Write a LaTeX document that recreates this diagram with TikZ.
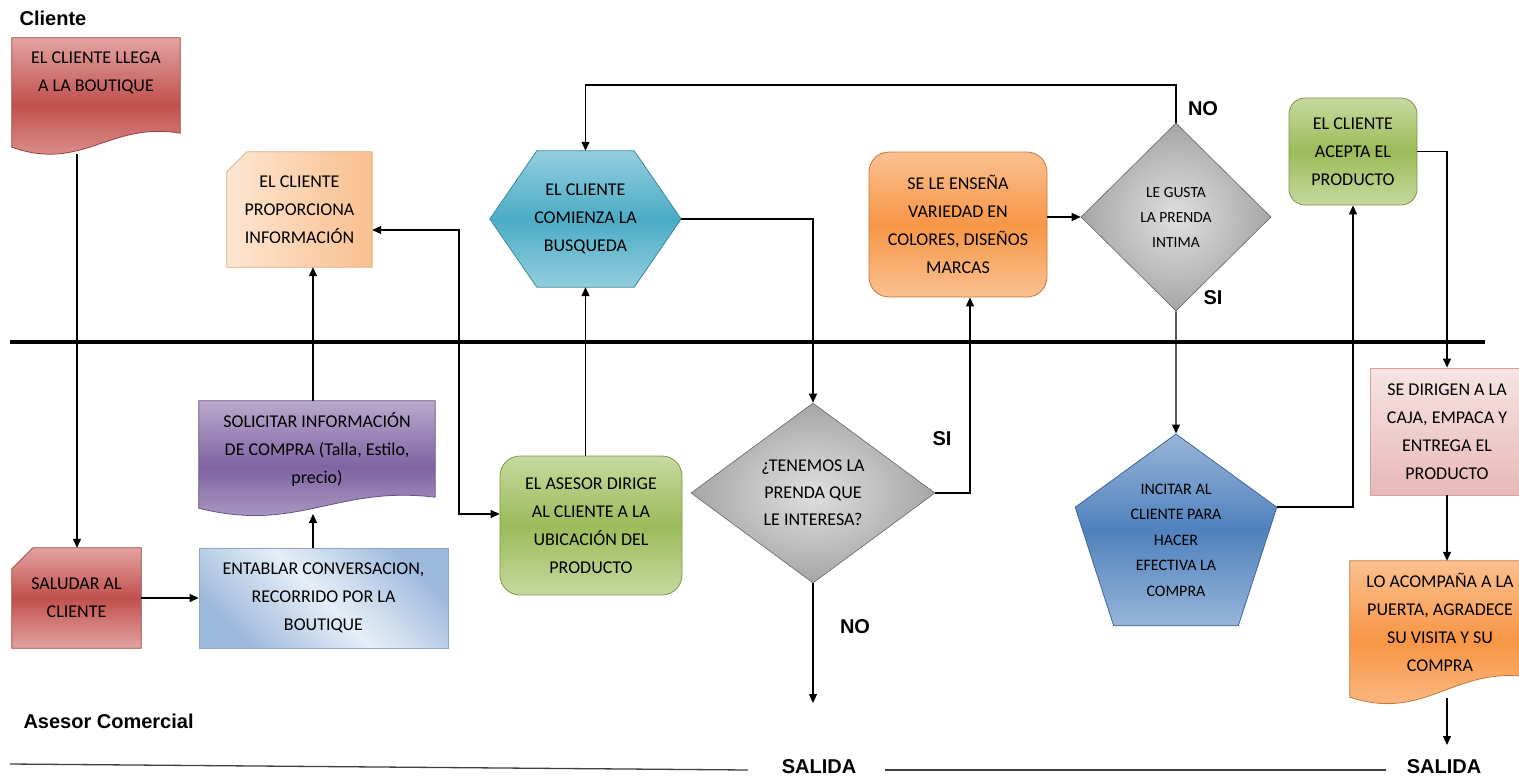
\documentclass[tikz,border=0pt]{standalone}
\usepackage{fontspec}
\setmainfont{Carlito}
\newfontfamily\lanefont{Liberation Sans}
\usetikzlibrary{shapes.geometric,arrows.meta,positioning,calc,backgrounds}
\definecolor{reddark}{HTML}{C0504D}
\definecolor{redlight}{HTML}{E3A3A1}
\definecolor{peachdark}{HTML}{F9BF8F}
\definecolor{peachlight}{HTML}{FDE6D2}
\definecolor{tealdark}{HTML}{4BACC6}
\definecolor{teallight}{HTML}{93CDDD}
\definecolor{orangedark}{HTML}{F79646}
\definecolor{orangelight}{HTML}{FAC090}
\definecolor{greendark}{HTML}{9BBB59}
\definecolor{greenlight}{HTML}{C6D9A0}
\definecolor{purpledark}{HTML}{8064A2}
\definecolor{purplelight}{HTML}{B8A8CC}
\definecolor{bluedark}{HTML}{4F81BD}
\definecolor{bluelight}{HTML}{98B5D8}
\definecolor{skydark}{HTML}{9DB9DB}
\definecolor{skylight}{HTML}{E6EEF7}
\definecolor{pinkdark}{HTML}{E6B9B8}
\definecolor{pinklight}{HTML}{F6E4E3}

% shapes drawn behind plain nodes
\newcommand{\docfill}[4]{%
  \path[#1] (#2.north west) -- (#2.north east) -- ($(#2.south east)+(0,#3)$)
    .. controls ($(#2.south east)!0.42!(#2.south west)+(0,{#3-12})$)
    and ($(#2.south east)!0.58!(#2.south west)+(0,{#4+25})$)
    .. ($(#2.south west)+(0,#4)$) -- cycle;}
\newcommand{\cardfill}[3]{%
  \path[#1] ($(#2.north west)+(#3,0)$) -- (#2.north east) -- (#2.south east)
    -- (#2.south west) -- ($(#2.north west)+(0,#3)$) -- cycle;}
\newcommand{\hexfill}[3]{%
  \path[#1] (#2.west) -- ($(#2.north west)+(#3,0)$) -- ($(#2.north east)+(-#3,0)$)
    -- (#2.east) -- ($(#2.south east)+(-#3,0)$) -- ($(#2.south west)+(#3,0)$) -- cycle;}

\begin{document}
\begin{tikzpicture}[x=1pt, y=-1pt,
    >={Triangle[length=9pt, width=8pt]},
    box/.style={inner sep=0pt, align=center, text=black, font=\fontsize{18}{28}\selectfont},
    smallbox/.style={box, font=\fontsize{15.5}{25}\selectfont},
    lane/.style={font=\lanefont\bfseries\fontsize{20}{24}\selectfont},
    link/.style={line width=1.2pt, ->},
    redshade/.style={top color=redlight, bottom color=redlight, middle color=reddark, draw=reddark!80!black, line width=0.8pt},
    peachshade/.style={left color=peachlight, right color=peachdark, draw=peachdark!90!black, line width=0.8pt},
    tealshade/.style={top color=teallight, bottom color=teallight, middle color=tealdark, draw=tealdark!80!black, line width=0.8pt},
    orangeshade/.style={top color=orangelight, bottom color=orangelight, middle color=orangedark, draw=orangedark!80!black, line width=0.8pt},
    greenshade/.style={top color=greenlight, bottom color=greenlight, middle color=greendark, draw=greendark!80!black, line width=0.8pt},
    purpleshade/.style={top color=purplelight, bottom color=purplelight, middle color=purpledark, draw=purpledark!80!black, line width=0.8pt},
    pentashade/.style={top color=bluelight, bottom color=bluelight, middle color=bluedark, draw=bluedark!80!black, line width=0.8pt},
    skyshade/.style={top color=skydark, bottom color=skydark, middle color=skylight, shading angle=-45, draw=skydark!90!black, line width=0.8pt},
    pinkshade/.style={top color=pinklight, bottom color=pinkdark, draw=reddark!55, line width=0.8pt},
    grayshade/.style={inner color=gray!25, outer color=gray!70, draw=gray!80!black, line width=0.6pt}
]
\useasboundingbox (0,0) rectangle (1519,780);

% lanes
\node[lane] (cliente) at (53,18) {Cliente};
\node[lane, anchor=west] (asesorlane) at (20,721) {Asesor Comercial};
\draw[line width=4pt] (10,342) -- (1485,342);
\draw[line width=1.3pt, black!75] (10,764) -- (748,770);
\draw[line width=1.3pt, black!75] (885,770) -- (1386,770);

% Cliente
\node[box, minimum width=168, minimum height=70] (llega) at (96,73) {EL CLIENTE LLEGA\\A LA BOUTIQUE};
\node[box, minimum width=145, minimum height=115] (proporciona) at (299.5,209.5) {EL CLIENTE\\PROPORCIONA\\INFORMACIÓN};
\node[box, minimum width=191, minimum height=136] (busca) at (585.5,219) {EL CLIENTE\\COMIENZA LA\\BUSQUEDA};
\node[box, orangeshade, rounded corners=20, minimum width=178, minimum height=145] (ensena) at (958,224.5) {SE LE ENSEÑA\\VARIEDAD EN\\COLORES, DISEÑOS\\MARCAS};
\node[smallbox, diamond, grayshade, minimum width=190, minimum height=188] (gusta) at (1176,217) {LE GUSTA\\LA PRENDA\\INTIMA};
\node[box, greenshade, rounded corners=16, minimum width=128, minimum height=107] (acepta) at (1353,151.5) {EL CLIENTE\\ACEPTA EL\\PRODUCTO};

% Asesor Comercial
\node[box, minimum width=129, minimum height=100] (saludar) at (76.5,598) {SALUDAR AL\\CLIENTE};
\node[box, skyshade, minimum width=249, minimum height=100] (entablar) at (323.5,598) {ENTABLAR CONVERSACION,\\RECORRIDO POR LA\\BOUTIQUE};
\node[box, minimum width=236, minimum height=96] (solicitar) at (317,449) {SOLICITAR INFORMACIÓN\\DE COMPRA (Talla, Estilo,\\precio)};
\node[box, greenshade, rounded corners=20, minimum width=182, minimum height=139] (asesor) at (591,525.5) {EL ASESOR DIRIGE\\AL CLIENTE A LA\\UBICACIÓN DEL\\PRODUCTO};
\node[box, diamond, grayshade, minimum width=244, minimum height=180, font=\fontsize{18}{27}\selectfont] (tenemos) at (813,493) {¿TENEMOS LA\\PRENDA QUE\\LE INTERESA?};
\node[box, regular polygon, regular polygon sides=5, pentashade, minimum size=212, font=\fontsize{16}{25.5}\selectfont] (incitar) at (1176,540) {INCITAR AL\\CLIENTE PARA\\HACER\\EFECTIVA LA\\COMPRA};
\node[box, pinkshade, minimum width=154, minimum height=127] (dirigen) at (1447,431.5) {SE DIRIGEN A LA\\CAJA, EMPACA Y\\ENTREGA EL\\PRODUCTO};
\node[box, minimum width=180, minimum height=122] (acompana) at (1440,622) {LO ACOMPAÑA A LA\\PUERTA, AGRADECE\\SU VISITA Y SU\\COMPRA};

\begin{scope}[on background layer]
  \docfill{redshade}{llega}{25}{39}
  \cardfill{peachshade}{proporciona}{20}
  \hexfill{tealshade}{busca}{47}
  \cardfill{redshade}{saludar}{21}
  \docfill{purpleshade}{solicitar}{0}{11}
  \docfill{orangeshade}{acompana}{-6}{14}
\end{scope}

% connectors
\coordinate (llegaout) at (77,154);
\coordinate (solout) at (313,514);
\coordinate (acompout) at (1447,698);
\coordinate (colinfo) at (313,0);
\coordinate (bendinfo) at (459,230);
\coordinate (bendasesor) at (459,514);
\coordinate (colsi) at (970,0);
\coordinate (rowno) at (0,85);
\coordinate (salidaA) at (813,703);
\coordinate (salidaB) at (1447,745);

\draw[link] (llegaout) -- (llegaout |- saludar.north);
\draw[link] (saludar.east) -- (entablar.west);
\draw[link] (entablar.north -| solout) -- (solout);
\draw[link] (solicitar.north -| colinfo) -- (proporciona.south -| colinfo);
\draw[link, <->] (proporciona.east |- bendinfo) -- (bendinfo) -- (bendasesor) -- (asesor.west |- bendasesor);
\draw[link] (asesor.north -| busca.south) -- (busca.south);
\draw[link] (busca.east) -| (tenemos.north);
\draw[link] (tenemos.east) -| (colsi |- ensena.south);
\draw[link] (tenemos.south) -- (salidaA);
\draw[link] (ensena.east |- gusta.west) -- (gusta.west);
\draw[link] (gusta.north) |- (rowno -| busca.north) -- (busca.north);
\draw[link] (gusta.south) -- (incitar.north);
\draw[link] (incitar.corner 5) -| (acepta.south);
\draw[link] (acepta.east) -| (dirigen.north);
\draw[link] (dirigen.south) -- (dirigen.south |- acompana.north);
\draw[link] (acompout) -- (salidaB);

% decisions and exits
\node[lane] (si1) at (942,439) {SI};
\node[lane] (no1) at (855,627) {NO};
\node[lane] (no2) at (1203,109) {NO};
\node[lane] (si2) at (1213,298) {SI};
\node[lane] (salida1) at (819,767) {SALIDA};
\node[lane] (salida2) at (1444,767) {SALIDA};
\end{tikzpicture}
\end{document}
